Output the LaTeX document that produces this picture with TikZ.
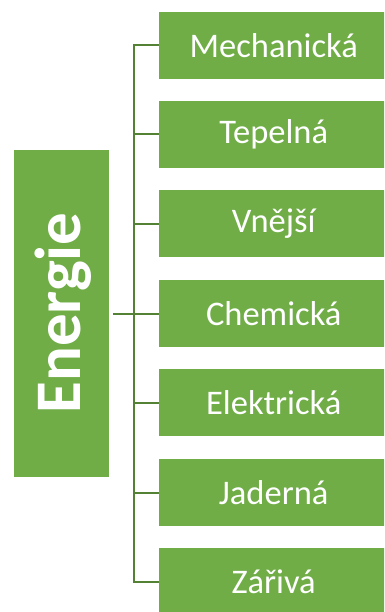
\documentclass[tikz,border=0pt]{standalone}
\usepackage{fontspec}
\setmainfont{Carlito}
\definecolor{boxgreen}{HTML}{70AD47}
\definecolor{linegreen}{HTML}{548235}
\tikzset{
  leaf/.style={fill=boxgreen, draw=none, minimum width=229pt, minimum height=67pt,
    inner sep=0pt, text=white, font=\fontsize{34.5}{38}\selectfont, anchor=west},
  rootbox/.style={fill=boxgreen, draw=none, minimum width=95pt, minimum height=327pt,
    inner sep=0pt},
  conn/.style={draw=linegreen, line width=2pt}
}
\begin{document}
\begin{tikzpicture}[x=1pt,y=-1pt]
\clip (0,0) rectangle (384,612);
\fill[white] (0,0) rectangle (384,612);
\node[rootbox] (root) at (61.5,313.5) {};
\node[text=white, font=\bfseries\fontsize{65}{70}\selectfont, rotate=90] (rootlabel) at (63,313) {Energie};
\node[leaf] (b1) at (159,45.5) {Mechanická};
\node[leaf] (b2) at (159,134.5) {Tepelná};
\node[leaf] (b3) at (159,223.5) {Vnější};
\node[leaf] (b4) at (159,313.5) {Chemická};
\node[leaf] (b5) at (159,402.5) {Elektrická};
\node[leaf] (b6) at (159,492.5) {Jaderná};
\node[leaf] (b7) at (159,581.5) {Zářivá};
\coordinate (t1) at (134,45.5);
\coordinate (t7) at (134,581.5);
\draw[conn] ([xshift=1pt]t1) -- (t1) -- (t7) -- ([xshift=21pt]t7);
\foreach \i in {1,...,7} {
  \draw[conn] (b\i.west) -- (134,0 |- b\i.west);
}
\draw[conn] ([xshift=4pt]root.east) -- (b4.west);
\end{tikzpicture}
\end{document}
